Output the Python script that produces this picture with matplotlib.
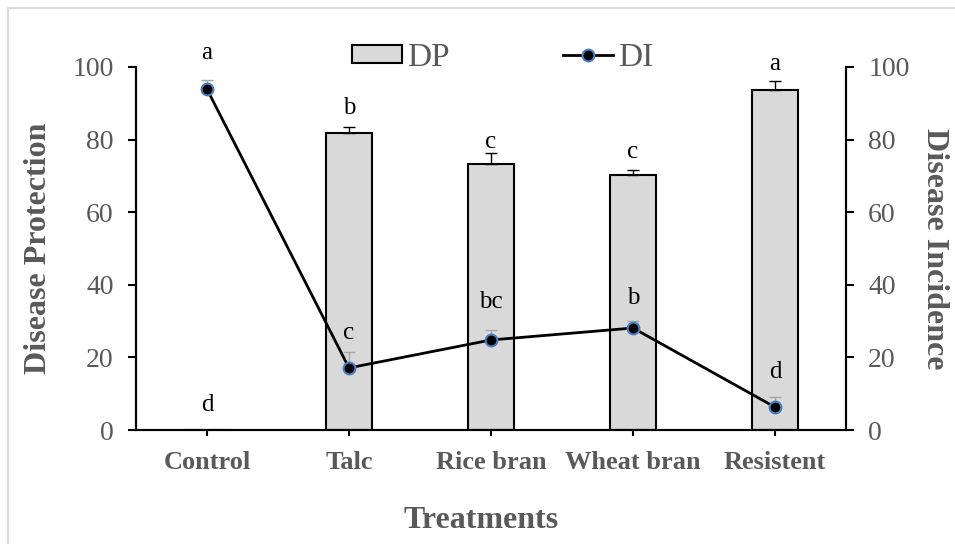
import numpy as np
import matplotlib
matplotlib.use("Agg")
from matplotlib import pyplot as plt
from matplotlib.lines import Line2D

# data
treatments = ["Control", "Talc", "Rice bran", "Wheat bran", "Resistent"]
dp = [0, 81.8, 73.3, 70.2, 93.7]
dp_err = [0, 1.8, 3.0, 1.4, 2.4]
dp_letters = ["d", "b", "c", "c", "a"]
dp_letter_y = [6.9, 88.7, 79.3, 76.6, 100.8]

di = [93.9, 17.1, 24.8, 28.1, 6.3]
di_err = [2.6, 4.5, 2.8, 1.8, 2.8]
di_letters = ["a", "c", "bc", "b", "d"]
di_letter_y = [103.8, 26.7, 35.3, 36.4, 16.0]

grey = "#595959"
plt.rcParams['font.family'] = ['Liberation Serif', 'DejaVu Serif']

fig = plt.figure(figsize=(9.55, 5.44), dpi=100)
ax = fig.add_axes([136/955, 1-430/544, 710/955, 363/544])
ax2 = ax.twinx()

x = np.arange(len(treatments))
zeros = np.zeros(len(x))

ax.bar(x, dp, width=0.32, color="#D9D9D9", edgecolor="black", linewidth=1.5,
       yerr=[zeros, dp_err], error_kw=dict(ecolor="black", elinewidth=1, capsize=4, capthick=1),
       zorder=2, label="DP")

ax2.errorbar(x, di, yerr=[zeros, di_err], fmt="none", ecolor="#A6A6A6", elinewidth=1,
             capsize=4, capthick=1, zorder=3)
ax2.plot(x, di, color="black", linewidth=2, marker="o", markersize=8.5,
         markerfacecolor="black", markeredgecolor="#4A7EC0", markeredgewidth=1.5,
         zorder=4, label="DI")

for i in range(len(x)):
    ax.text(x[i], dp_letter_y[i], dp_letters[i], ha="center", va="center",
            fontsize=18, color="black", clip_on=False)
    ax2.text(x[i], di_letter_y[i], di_letters[i], ha="center", va="center",
             fontsize=18, color="black", clip_on=False)

for a in (ax, ax2):
    a.set_ylim(0, 100)
    a.set_yticks([0, 20, 40, 60, 80, 100])
    a.spines["top"].set_visible(False)
    for s in a.spines.values():
        s.set_linewidth(1.5)
    a.tick_params(axis="y", direction="out", length=6, width=1.5, pad=10,
                  labelsize=20, labelcolor=grey)
ax.set_xlim(-0.5, 4.5)
ax.set_xticks(x)
ax.set_xticklabels(treatments, fontweight="bold", color=grey)
ax.tick_params(axis="x", direction="out", length=4, width=1.5, pad=11, labelsize=19)

ax.set_ylabel("Disease Protection", fontsize=23, fontweight="bold", color=grey,
              va="center")
ax.yaxis.set_label_coords(-0.138, 0.5)
ax2.set_ylabel("Disease Incidence", fontsize=23, fontweight="bold", color=grey,
               rotation=270, va="center")
ax2.yaxis.set_label_coords(1.125, 0.5)
ax.set_xlabel("Treatments", fontsize=23, fontweight="bold", color=grey)
ax.xaxis.set_label_coords(0.486, -0.21)

h1, l1 = ax.get_legend_handles_labels()
h2, l2 = ax2.get_legend_handles_labels()
leg = fig.legend(h1 + h2, l1 + l2, loc="center", bbox_to_anchor=(0.526, 0.894),
                 ncol=2, frameon=False, fontsize=24, handlelength=1.5,
                 handleheight=0.45, handletextpad=0.15, columnspacing=3.4,
                 borderpad=0)
for t in leg.get_texts():
    t.set_color(grey)

# light frame around the chart area
fig.add_artist(Line2D([8/955, 1], [1-8/544, 1-8/544], color="#D9D9D9", linewidth=1.5))
fig.add_artist(Line2D([8/955, 8/955], [0, 1-8/544], color="#D9D9D9", linewidth=1.5))

fig.savefig("out.png", dpi=100)
